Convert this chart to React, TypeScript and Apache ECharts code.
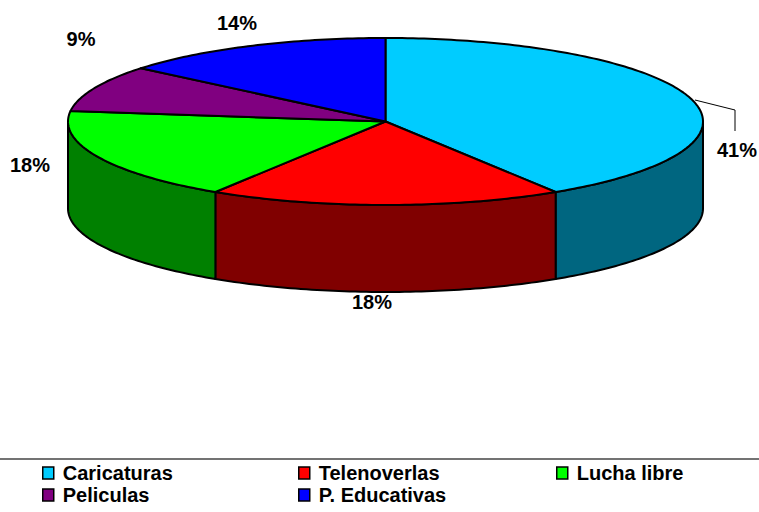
import React, { useEffect, useRef } from "react";
import * as echarts from "echarts";

const categories = ["Caricaturas", "Telenoverlas", "Lucha libre", "Peliculas", "P. Educativas"];
const values = [41, 18, 18, 9, 14];
const topColors = ["#00CCFF", "#FF0000", "#00FF00", "#800080", "#0000FF"];
const sideColors = ["#006680", "#800000", "#008000", "#400040", "#000080"];

// layout (not data)
const CX = 385.5, CY = 121.5, RX = 317.5, RY = 83.5, DEPTH = 87;
const labelPos = [[737, 150], [372, 302], [30, 165], [81, 39], [237, 23]];
const FONT = 'Arial, "Liberation Sans", sans-serif';

const total = values.reduce((a, b) => a + b, 0);
const starts: number[] = [];
values.reduce((acc, v) => { starts.push(acc); return acc + v; }, 0);

function pt(deg: number, dy = 0): number[] {
  const r = (deg * Math.PI) / 180;
  return [CX + RX * Math.sin(r), CY - RY * Math.cos(r) + dy];
}
function arc(a1: number, a2: number, dy = 0): number[][] {
  const pts: number[][] = [];
  const n = Math.max(2, Math.ceil(Math.abs(a2 - a1) / 1));
  for (let k = 0; k <= n; k++) pts.push(pt(a1 + ((a2 - a1) * k) / n, dy));
  return pts;
}

export default function App() {
  const ref = useRef<HTMLDivElement>(null);
  useEffect(() => {
    if (!ref.current) return;
    const chart = echarts.init(ref.current, null, { renderer: "svg" });
    const series = categories.map((name, i) => ({
      type: "custom",
      name,
      coordinateSystem: "none",
      itemStyle: { color: topColors[i], borderColor: "#000", borderWidth: 1 },
      data: [[starts[i], values[i]]],
      renderItem: (params: any, api: any) => {
        const s = api.value(0), v = api.value(1);
        const a1 = (s / total) * 360, a2 = ((s + v) / total) * 360;
        const children: any[] = [];
        const f1 = Math.max(a1, 90), f2 = Math.min(a2, 270);
        if (f2 > f1) {
          const up = arc(f1, f2);
          const down = arc(f2, f1, DEPTH);
          children.push({
            type: "polygon",
            shape: { points: up.concat(down) },
            style: { fill: sideColors[i], stroke: "#000", lineWidth: 2, lineJoin: "round" },
          });
        }
        children.push({
          type: "polygon",
          shape: { points: [[CX, CY]].concat(arc(a1, a2)) },
          style: { fill: topColors[i], stroke: "#000", lineWidth: 2, lineJoin: "round" },
        });
        children.push({
          type: "text",
          x: labelPos[i][0],
          y: labelPos[i][1],
          style: {
            text: Math.round((v / total) * 100) + "%",
            fontFamily: FONT,
            fontWeight: "bold",
            fontSize: 20,
            fill: "#000",
            align: "center",
            verticalAlign: "middle",
          },
        });
        return { type: "group", children };
      },
    }));
    const legendBase = {
      orient: "vertical",
      top: 462,
      padding: 0,
      itemGap: 0,
      itemWidth: 11,
      itemHeight: 12,
      icon: "rect",
      itemStyle: { borderColor: "#000", borderWidth: 1.5 },
      textStyle: {
        fontFamily: FONT,
        fontWeight: "bold",
        fontSize: 20,
        lineHeight: 22,
        color: "#000",
        padding: [0, 0, 0, 4],
      },
    };
    chart.setOption({
      animation: false,
      backgroundColor: "#fff",
      legend: [
        { ...legendBase, left: 42, data: [categories[0], categories[3]] },
        { ...legendBase, left: 298, data: [categories[1], categories[4]] },
        { ...legendBase, left: 556, data: [categories[2]] },
      ],
      graphic: [
        {
          type: "line",
          shape: { x1: 0, y1: 459, x2: 759, y2: 459 },
          style: { stroke: "#444", lineWidth: 1.5 },
        },
        {
          type: "polyline",
          shape: { points: [[695, 100], [735, 110], [735, 131]] },
          style: { stroke: "#000", lineWidth: 1, fill: null },
        },
      ],
      series,
    });
    return () => chart.dispose();
  }, []);
  return (
    <div
      ref={ref}
      style={{ position: "fixed", left: 0, top: 0, width: 759, height: 512 }}
    />
  );
}
